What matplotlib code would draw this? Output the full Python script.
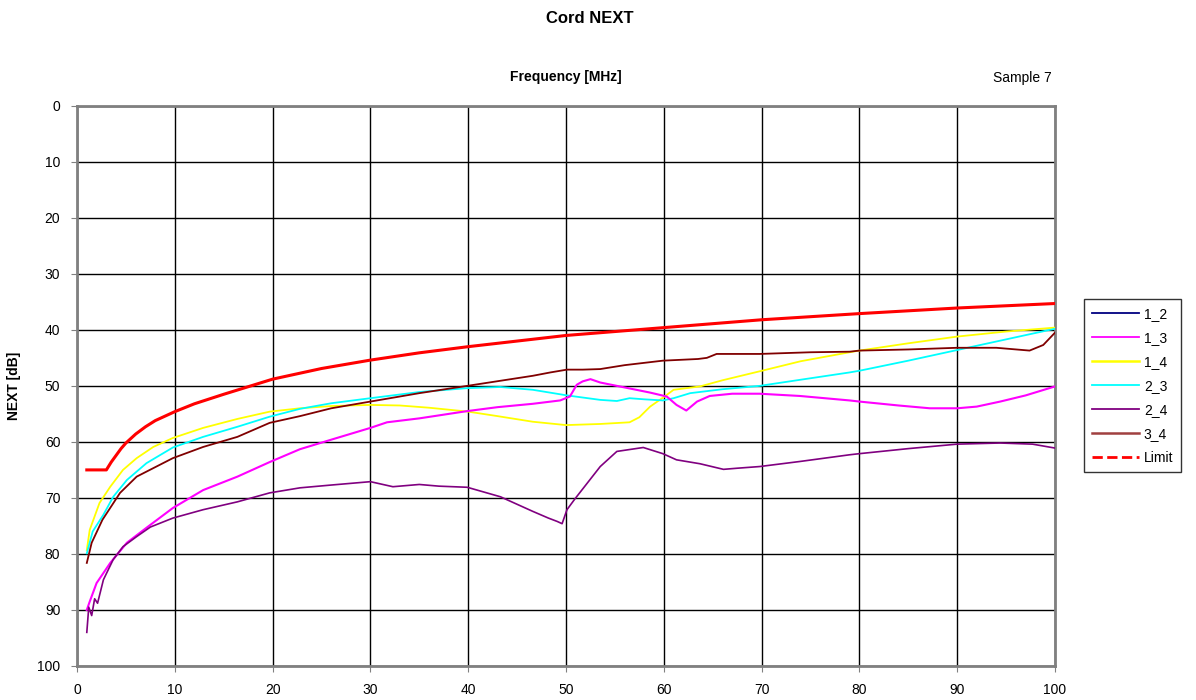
import matplotlib.pyplot as plt
from matplotlib.lines import Line2D

plt.rcParams['font.family'] = ['Liberation Sans', 'DejaVu Sans']

# Limit line
f_limit = [1, 3, 3.5, 4, 4.5, 5, 6, 7, 8, 10, 12, 15, 20, 25, 30, 35, 40, 50,
           60, 70, 80, 90, 100]
limit = [65, 65, 63.6, 62.4, 61.2, 60.2, 58.6, 57.3, 56.2, 54.6, 53.2, 51.5,
         48.8, 46.9, 45.4, 44.1, 43.0, 41.0, 39.6, 38.2, 37.1, 36.1, 35.3]

# 1_4 (yellow)
f_14 = [1, 1.3, 2.3, 3.4, 4.7, 6.1, 7.8, 9.8, 12.9, 16.4, 19.7, 22.8, 26, 30, 33,
        36, 40, 43, 46.6, 50, 53.5, 56.5, 57.5, 58.6, 60, 61, 63.7, 66, 69.8, 74,
        79, 80, 85, 90, 95, 100]
v_14 = [79.3, 75.7, 70.9, 68.0, 65.0, 62.9, 60.9, 59.3, 57.5, 55.9, 54.6, 54.0,
        53.6, 53.4, 53.5, 53.9, 54.6, 55.4, 56.4, 57.0, 56.8, 56.5, 55.6, 53.7,
        52.0, 50.7, 50.1, 49.0, 47.4, 45.6, 44.0, 43.7, 42.4, 41.2, 40.3, 39.6]

# 2_3 (cyan)
f_23 = [1, 1.6, 2.7, 3.7, 5.1, 7.1, 9.8, 12.9, 16.4, 19.7, 22.8, 26, 30, 35,
        39.9, 43.3, 46.6, 50.1, 53.5, 55.2, 56.5, 58, 59.9, 61, 62.7, 66, 69.8,
        74, 79, 80, 85, 90, 95, 100]
v_23 = [79.9, 76.0, 73.0, 69.8, 66.8, 63.8, 61.0, 59.1, 57.3, 55.5, 54.1, 53.1,
        52.2, 51.1, 50.4, 50.2, 50.7, 51.7, 52.5, 52.7, 52.2, 52.4, 52.6, 52.2,
        51.3, 50.6, 50.0, 48.9, 47.6, 47.3, 45.5, 43.6, 41.7, 39.8]

# 3_4 (brown)
f_34 = [1, 1.5, 2.6, 4.4, 6.1, 9.8, 12.9, 16.4, 19.7, 22.8, 26, 30, 35, 39.9,
        46.6, 48.4, 50.1, 51.7, 53.5, 56, 59.9, 63.5, 64.4, 65.4, 69.8, 75, 79,
        80, 85, 90, 94, 97.4, 98.8, 100]
v_34 = [81.6, 78.0, 73.9, 69.1, 66.2, 62.9, 60.9, 59.1, 56.6, 55.4, 54.0, 52.8,
        51.3, 50.0, 48.2, 47.6, 47.1, 47.1, 47.0, 46.3, 45.5, 45.2, 45.0, 44.3,
        44.3, 44.0, 43.9, 43.7, 43.5, 43.2, 43.2, 43.7, 42.7, 40.5]

# 1_3 (magenta)
f_13 = [1, 1.3, 2, 3.4, 5.1, 7.2, 9.8, 12.9, 16.4, 19.7, 22.8, 26, 30, 31.7, 35,
        39.9, 43, 46.6, 49.4, 50.4, 51.1, 51.7, 52.5, 53.5, 55.2, 58.6, 60.3,
        61.3, 62.3, 63.4, 64.7, 67, 69.8, 73.9, 79, 80, 84, 87.2, 90, 92, 94.4,
        97, 100]
v_13 = [90.0, 88.5, 85.2, 81.6, 78.0, 75.2, 71.8, 68.6, 66.2, 63.6, 61.3, 59.6,
        57.5, 56.5, 55.8, 54.5, 53.8, 53.2, 52.6, 51.9, 49.8, 49.2, 48.8, 49.4,
        50.0, 51.2, 51.9, 53.4, 54.4, 52.8, 51.8, 51.4, 51.4, 51.8, 52.6, 52.8,
        53.5, 54.0, 54.0, 53.7, 52.8, 51.7, 50.1]

# 2_4 (purple)
f_24 = [1, 1.2, 1.5, 1.8, 2.1, 2.7, 3.7, 4.7, 6.1, 7.5, 9.8, 12.9, 16.4, 19.7,
        22.8, 26, 30, 32.3, 35, 37, 39.9, 43.3, 46.6, 48.2, 49.1, 49.6, 50.1,
        50.9, 53.5, 55.2, 57.9, 59.9, 61.3, 63.7, 66.1, 67.5, 69.8, 73.9, 79, 80,
        85, 90, 94.4, 97.7, 100]
v_24 = [94.0, 89.5, 91.0, 88.0, 88.8, 84.6, 81.0, 78.7, 76.9, 75.2, 73.6, 72.1,
        70.7, 69.1, 68.2, 67.7, 67.1, 68.0, 67.6, 67.9, 68.1, 69.8, 72.4, 73.6,
        74.2, 74.6, 72.1, 70.2, 64.4, 61.7, 61.0, 62.1, 63.2, 63.9, 64.9, 64.7,
        64.4, 63.5, 62.3, 62.1, 61.2, 60.4, 60.2, 60.4, 61.1]

fig = plt.figure(figsize=(11.96, 7), dpi=100)
ax = fig.add_axes([0.0644, 0.0486, 0.8177, 0.8003])

ax.plot(f_limit, limit, color='#ff0000', lw=2.2, zorder=9)
ax.plot(f_14, v_14, color='#ffff00', lw=1.3, zorder=4)
ax.plot(f_23, v_23, color='#00ffff', lw=1.3, zorder=5)
ax.plot(f_34, v_34, color='#800000', lw=1.3, zorder=6)
ax.plot(f_13, v_13, color='#ff00ff', lw=1.5, zorder=7)
ax.plot(f_24, v_24, color='#800080', lw=1.2, zorder=8)

ax.set_xlim(0, 100)
ax.set_ylim(100, 0)
ax.set_xticks(range(0, 101, 10))
ax.set_yticks(range(0, 101, 10))
ax.grid(True, color='black', lw=1)
ax.set_axisbelow(True)
for s in ax.spines.values():
    s.set_color('#808080')
    s.set_linewidth(2)
ax.tick_params(direction='out', length=4, color='#808080', labelsize=10, pad=8)

ax.set_ylabel('NEXT [dB]', fontsize=10, fontweight='bold', labelpad=12)
ax.set_title('Frequency [MHz]', fontsize=10, fontweight='bold', pad=18)
fig.text(0.493, 0.974, 'Cord NEXT', ha='center', va='center',
         fontsize=12, fontweight='bold')
fig.text(0.879, 0.888, 'Sample 7', ha='right', va='center', fontsize=10)

handles = [Line2D([], [], color='#000080', lw=1.3),
           Line2D([], [], color='#ff00ff', lw=1.3),
           Line2D([], [], color='#ffff00', lw=1.8),
           Line2D([], [], color='#00ffff', lw=1.3),
           Line2D([], [], color='#800080', lw=1.3),
           Line2D([], [], color='#a04040', lw=1.8),
           Line2D([], [], color='#ff0000', lw=2, ls='--')]
labels = ['1_2', '1_3', '1_4', '2_3', '2_4', '3_4', 'Limit']
leg = fig.legend(handles, labels, loc='center left',
                 bbox_to_anchor=(0.9065, 0.449), fontsize=10, frameon=True,
                 fancybox=False, edgecolor='black', handlelength=3.4,
                 handletextpad=0.35, labelspacing=0.72, borderpad=0.55,
                 borderaxespad=0)
leg.get_frame().set_linewidth(1)

fig.savefig('out.png', dpi=100)
